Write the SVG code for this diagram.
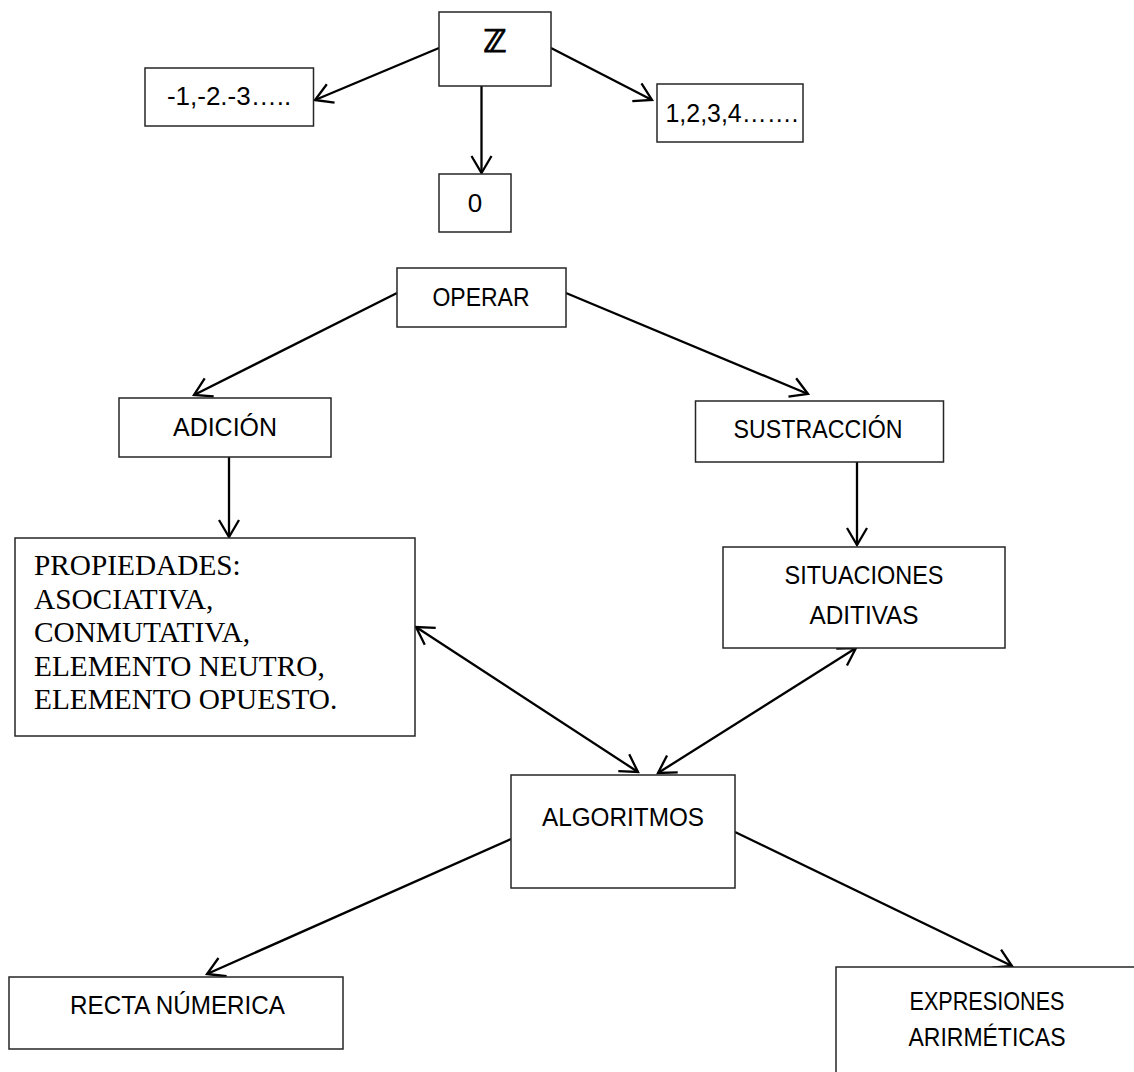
<svg xmlns="http://www.w3.org/2000/svg" width="1134" height="1072" viewBox="0 0 1134 1072">
  <style>
    .box { fill: #ffffff; stroke: #262626; stroke-width: 1.5; }
    .lbl { font-family: "Liberation Sans", Arial, sans-serif; font-size: 26px; fill: #000; text-anchor: middle; }
    .ser { font-family: "Liberation Serif", "Times New Roman", serif; font-size: 29.3px; fill: #000; }
    .con { stroke: #000; stroke-width: 2.3; fill: none; marker-end: url(#arr); }
    .dbl { marker-start: url(#arr); }
  </style>
  <defs>
    <marker id="arr" viewBox="-19 -12 22 24" refX="0" refY="0" markerWidth="22" markerHeight="24" markerUnits="userSpaceOnUse" orient="auto-start-reverse">
      <path d="M -17 -10 L 0 0 L -17 10" fill="none" stroke="#000" stroke-width="2.3" stroke-linejoin="miter"/>
    </marker>
  </defs>
  <rect x="0" y="0" width="1134" height="1072" fill="#ffffff"/>

  <g id="connectors">
    <line class="con" x1="439" y1="48" x2="315" y2="100"/>
    <line class="con" x1="551" y1="48" x2="652" y2="100"/>
    <line class="con" x1="481.5" y1="86" x2="481.5" y2="173"/>
    <line class="con" x1="397" y1="293" x2="194" y2="395"/>
    <line class="con" x1="566" y1="293" x2="808" y2="394"/>
    <line class="con" x1="229" y1="457" x2="229" y2="537"/>
    <line class="con" x1="857" y1="462" x2="857" y2="545"/>
    <line class="con dbl" x1="416" y1="627" x2="638" y2="772"/>
    <line class="con dbl" x1="856" y1="648" x2="658" y2="773"/>
    <line class="con" x1="511" y1="839" x2="207" y2="974"/>
    <line class="con" x1="735" y1="832" x2="1012" y2="966"/>
  </g>

  <g id="node-z">
    <rect class="box" x="439" y="12" width="112" height="74"/>
    <text x="495" y="52" style="font-family: 'DejaVu Serif', 'DejaVu Sans', serif; font-size: 31px; font-weight: bold; text-anchor: middle; fill: #000; stroke: #000; stroke-width: 0.9;">ℤ</text>
  </g>
  <g id="node-neg">
    <rect class="box" x="145" y="68" width="168.5" height="58"/>
    <text class="lbl" x="229" y="105">-1,-2.-3…..</text>
  </g>
  <g id="node-pos">
    <rect class="box" x="657" y="84" width="146" height="58"/>
    <text class="lbl" x="732" y="122" textLength="133" lengthAdjust="spacingAndGlyphs">1,2,3,4…….</text>
  </g>
  <g id="node-zero">
    <rect class="box" x="439" y="174" width="72" height="58"/>
    <text class="lbl" x="475" y="212">0</text>
  </g>
  <g id="node-operar">
    <rect class="box" x="397" y="268" width="169" height="59"/>
    <text class="lbl" x="481" y="306" textLength="97" lengthAdjust="spacingAndGlyphs">OPERAR</text>
  </g>
  <g id="node-adicion">
    <rect class="box" x="119" y="398" width="212" height="59"/>
    <text class="lbl" x="225" y="436" textLength="104" lengthAdjust="spacingAndGlyphs">ADICIÓN</text>
  </g>
  <g id="node-sustraccion">
    <rect class="box" x="695.5" y="401" width="248" height="61"/>
    <text class="lbl" x="818" y="438" textLength="169" lengthAdjust="spacingAndGlyphs">SUSTRACCIÓN</text>
  </g>
  <g id="node-propiedades">
    <rect class="box" x="15" y="538" width="400" height="198"/>
    <text class="ser" x="34" y="575">PROPIEDADES:</text>
    <text class="ser" x="34" y="608.5">ASOCIATIVA,</text>
    <text class="ser" x="34" y="642">CONMUTATIVA,</text>
    <text class="ser" x="34" y="675.5">ELEMENTO NEUTRO,</text>
    <text class="ser" x="34" y="709">ELEMENTO OPUESTO.</text>
  </g>
  <g id="node-situaciones">
    <rect class="box" x="723" y="547" width="282" height="101"/>
    <text class="lbl" x="864" y="584" textLength="159" lengthAdjust="spacingAndGlyphs">SITUACIONES</text>
    <text class="lbl" x="864" y="624" textLength="109" lengthAdjust="spacingAndGlyphs">ADITIVAS</text>
  </g>
  <g id="node-algoritmos">
    <rect class="box" x="511" y="775" width="224" height="113"/>
    <text class="lbl" x="623" y="826" textLength="162" lengthAdjust="spacingAndGlyphs">ALGORITMOS</text>
  </g>
  <g id="node-recta">
    <rect class="box" x="9" y="977" width="334" height="72"/>
    <text class="lbl" x="177.5" y="1014" textLength="215" lengthAdjust="spacingAndGlyphs">RECTA NÚMERICA</text>
  </g>
  <g id="node-expresiones">
    <rect class="box" x="836" y="967" width="320" height="130"/>
    <text class="lbl" x="987" y="1010" textLength="155" lengthAdjust="spacingAndGlyphs">EXPRESIONES</text>
    <text class="lbl" x="987" y="1046" textLength="157" lengthAdjust="spacingAndGlyphs">ARIRMÉTICAS</text>
  </g>
</svg>
